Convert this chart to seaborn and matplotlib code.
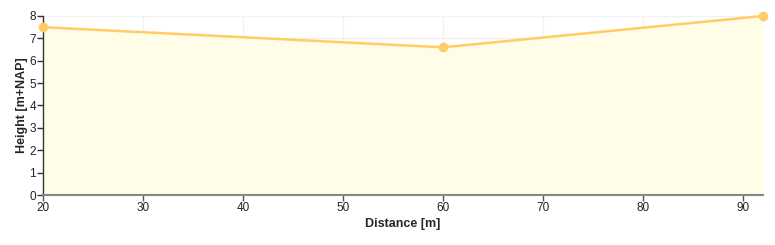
import matplotlib
matplotlib.use("Agg")
import matplotlib.pyplot as plt
import seaborn as sns
import pandas as pd

distance = [20, 60, 92]
height = [7.5, 6.6, 8.0]
x_ticks = [20, 30, 40, 50, 60, 70, 80, 90]
y_ticks = [0, 1, 2, 3, 4, 5, 6, 7, 8]

sns.set_style("white")
plt.rcParams['font.family'] = ['Liberation Sans', 'DejaVu Sans']

df = pd.DataFrame({"Distance": distance, "Height": height})

fig = plt.figure(figsize=(7.75, 2.45), dpi=100)
ax = fig.add_axes([43/775, 50/245, (763-43)/775, (195-16)/245])

ax.fill_between(df["Distance"], df["Height"], 0, color="#fffde8", zorder=1, linewidth=0)
sns.lineplot(data=df, x="Distance", y="Height", ax=ax, color="#ffcc66", linewidth=1.8,
             marker="o", markersize=7, markeredgewidth=0, zorder=3, clip_on=False)

ax.set_xlim(20, 92)
ax.set_ylim(0, 8)
ax.set_xticks(x_ticks)
ax.set_yticks(y_ticks)
ax.grid(True, color="#f2f2f2", linewidth=1, zorder=0)
ax.set_axisbelow(True)

for s in ["top", "right"]:
    ax.spines[s].set_visible(False)
ax.spines["left"].set_color("#333333")
ax.spines["left"].set_linewidth(1)
ax.spines["bottom"].set_color("#888888")
ax.spines["bottom"].set_linewidth(1.5)

ax.tick_params(axis="both", labelsize=8.5, labelcolor="#222222", length=4, width=1, pad=1,
               direction="out", bottom=True, left=True)
ax.tick_params(axis="x", color="#555555")
ax.tick_params(axis="y", color="#333333")

ax.set_xlabel("Distance [m]", fontsize=9, fontweight="bold", labelpad=3)
ax.set_ylabel("Height [m+NAP]", fontsize=9, fontweight="bold", labelpad=1)

fig.savefig("out.png", dpi=100)
